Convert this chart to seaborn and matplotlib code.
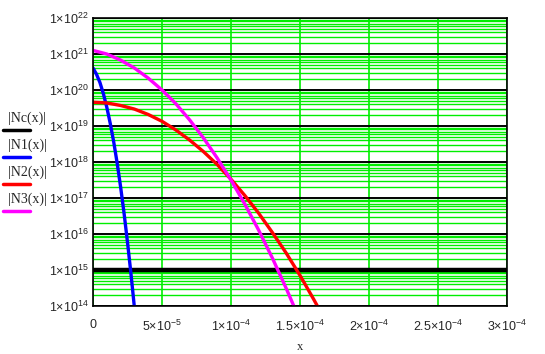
import matplotlib
matplotlib.use("Agg")
import numpy as np
import matplotlib.pyplot as plt
import seaborn as sns
from matplotlib.lines import Line2D
from matplotlib.ticker import FixedLocator, LogLocator, NullFormatter

# values (x in metres, curves as log10 of the value)
n1_x = [0, 0.25e-5, 0.5e-5, 0.75e-5, 1.0e-5, 1.25e-5, 1.5e-5, 1.75e-5, 2.0e-5,
        2.25e-5, 2.5e-5, 2.75e-5, 3.0e-5, 3.2e-5]
n1_log10 = [20.61, 20.44, 20.21, 19.90, 19.52, 19.07, 18.56, 17.97, 17.31,
            16.58, 15.77, 14.90, 13.96, 13.15]

n2_x = [0, 1e-5, 2e-5, 3e-5, 4e-5, 5e-5, 6e-5, 7e-5, 8e-5, 9e-5, 10e-5,
        11e-5, 12e-5, 13e-5, 14e-5, 15e-5, 16e-5, 17e-5]
n2_log10 = [19.66, 19.64, 19.57, 19.47, 19.32, 19.13, 18.89, 18.61, 18.29, 17.93, 17.52,
            17.07, 16.58, 16.04, 15.47, 14.85, 14.18, 13.48]

n3_x = [0, 1e-5, 2e-5, 3e-5, 4e-5, 5e-5, 6e-5, 7e-5, 8e-5, 9e-5, 10e-5,
        11e-5, 12e-5, 13e-5, 14e-5, 15e-5]
n3_log10 = [21.10, 21.00, 20.83, 20.61, 20.33, 20.00, 19.62, 19.17, 18.67, 18.11, 17.50,
            16.83, 16.11, 15.33, 14.49, 13.60]

nc_x = [0, 3e-4]
nc_log10 = [15, 15]

x_ticks = [0, 5e-5, 1e-4, 1.5e-4, 2e-4, 2.5e-4, 3e-4]
x_labels = ["0", r"$5{\times}10^{-5}$", r"$1{\times}10^{-4}$", r"$1.5{\times}10^{-4}$",
            r"$2{\times}10^{-4}$", r"$2.5{\times}10^{-4}$", r"$3{\times}10^{-4}$"]
y_exps = list(range(14, 23))
legend_names = ["|Nc(x)|", "|N1(x)|", "|N2(x)|", "|N3(x)|"]
colors = ["black", "#0000ff", "#ff0000", "#ff00ff"]

sns.set_style("white")
plt.rcParams["font.family"] = ["Liberation Sans", "DejaVu Sans"]
plt.rcParams["mathtext.fontset"] = "custom"
plt.rcParams["mathtext.rm"] = "Liberation Sans"
plt.rcParams["mathtext.it"] = "Liberation Sans"

fig = plt.figure(figsize=(5.45, 3.54), dpi=100)
ax = fig.add_axes([93 / 545, 48 / 354, 414 / 545, 288 / 354])
ax.set_yscale("log")
ax.set_xlim(0, 3e-4)
ax.set_ylim(1e14, 1e22)

# grid: green minors, black decades
ax.yaxis.set_major_locator(FixedLocator([10.0 ** e for e in y_exps]))
ax.yaxis.set_minor_locator(LogLocator(base=10, subs=np.arange(2, 10), numticks=50))
ax.yaxis.set_minor_formatter(NullFormatter())
ax.set_xticks(x_ticks)
ax.set_xticklabels(x_labels, fontsize=9)
ax.set_yticklabels([r"$1{\times}10^{%d}$" % e for e in y_exps], fontsize=9)
ax.grid(True, which="minor", axis="y", color="#00ee00", lw=1.0)
ax.grid(True, which="major", axis="y", color="black", lw=1.4)
ax.grid(True, which="major", axis="x", color="#00ee00", lw=1.2)
ax.set_axisbelow(True)
ax.tick_params(which="both", length=0)
ax.tick_params(axis="y", pad=3)
ax.tick_params(axis="x", pad=9)
for s in ax.spines.values():
    s.set_color("black")
    s.set_linewidth(1.2)

series = [(nc_x, nc_log10, 3.2), (n1_x, n1_log10, 2.4),
          (n2_x, n2_log10, 2.4), (n3_x, n3_log10, 2.4)]
for (xs, logs, lw), c in zip(series, colors):
    sns.lineplot(x=xs, y=np.power(10.0, logs), ax=ax, color=c, lw=lw, sort=False)

ax.set_xlabel("x", fontsize=9, family="Liberation Serif", labelpad=5)
ax.set_ylabel("")

# Mathcad style legend on the left
for i, (name, c) in enumerate(zip(legend_names, colors)):
    ty = 1 - (118 + 27 * i) / 354
    ly = 1 - (130 + 27 * i) / 354
    fig.text(8 / 545, ty, name, fontsize=10, family="Liberation Serif", va="center")
    fig.add_artist(Line2D([3 / 545, 30 / 545], [ly, ly], color=c, lw=2.5,
                          transform=fig.transFigure))

fig.savefig("out.png", dpi=100)
